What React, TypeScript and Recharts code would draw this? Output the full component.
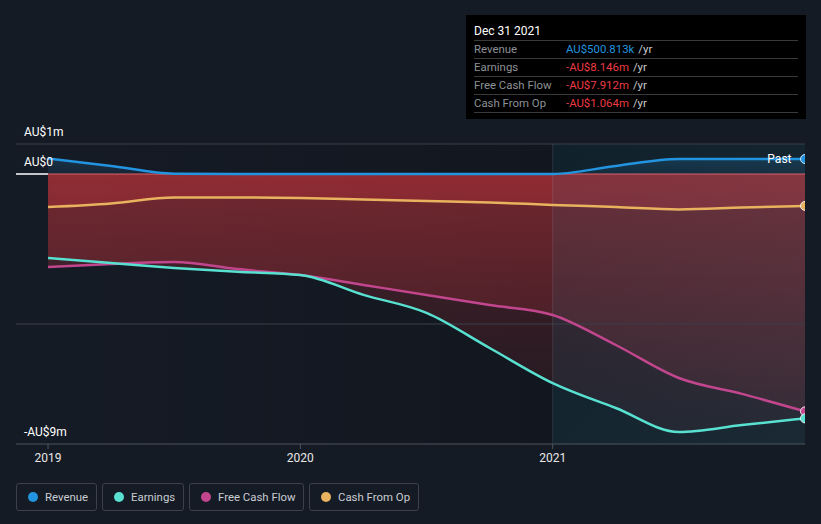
import {
  ComposedChart,
  Area,
  Line,
  XAxis,
  YAxis,
  ReferenceLine,
  ReferenceArea,
  ReferenceDot,
} from "recharts";

const periods = [2019, 2019.25, 2019.5, 2019.75, 2020, 2020.25, 2020.5, 2020.75, 2021, 2021.25, 2021.5, 2021.75, 2022];
const revenue = [0.52, 0.27, 0.01, 0, 0, 0, 0, 0, 0, 0.27, 0.5, 0.5, 0.5];
const earnings = [-2.8, -2.97, -3.13, -3.26, -3.37, -4.03, -4.63, -5.8, -6.97, -7.8, -8.6, -8.37, -8.146];
const freeCashFlow = [-3.1, -3.0, -2.93, -3.17, -3.37, -3.7, -4.03, -4.37, -4.7, -5.7, -6.8, -7.33, -7.912];
const cashFromOp = [-1.1, -0.98, -0.78, -0.78, -0.8, -0.85, -0.9, -0.95, -1.03, -1.1, -1.18, -1.12, -1.064];

const xTicks = [2019, 2020, 2021];

const COLORS = {
  revenue: "#2394df",
  earnings: "#58e0d0",
  fcf: "#c2468e",
  cfo: "#e8b25e",
};

const data = periods.map((t, i) => ({
  t,
  revenue: revenue[i],
  earnings: earnings[i],
  fcf: freeCashFlow[i],
  cfo: cashFromOp[i],
}));

const FONT = "Roboto, 'Noto Sans', sans-serif";

const yLabel = (value: string) => ({
  value,
  position: "insideBottomLeft" as const,
  offset: 8,
  fill: "#ffffff",
  fontSize: 12,
  fontFamily: FONT,
});

const tooltipRows = [
  { label: "Revenue", value: "AU$500.813k", color: "#2394df" },
  { label: "Earnings", value: "-AU$8.146m", color: "#ee3b43" },
  { label: "Free Cash Flow", value: "-AU$7.912m", color: "#ee3b43" },
  { label: "Cash From Op", value: "-AU$1.064m", color: "#ee3b43" },
];

const legendItems = [
  { label: "Revenue", color: COLORS.revenue, width: 81 },
  { label: "Earnings", color: COLORS.earnings, width: 82 },
  { label: "Free Cash Flow", color: COLORS.fcf, width: 115 },
  { label: "Cash From Op", color: COLORS.cfo, width: 110 },
];

export default function App() {
  return (
    <div
      style={{
        position: "fixed",
        left: 0,
        top: 0,
        width: 821,
        height: 524,
        background: "#151b25",
        fontFamily: FONT,
        overflow: "hidden",
      }}
    >
      <ComposedChart
        width={821}
        height={524}
        data={data}
        margin={{ top: 144, right: 16, bottom: 50, left: 16 }}
      >
        <defs>
          <linearGradient id="plotShade" x1="0" y1="0" x2="1" y2="0">
            <stop offset="0%" stopColor="#000" stopOpacity={0} />
            <stop offset="67%" stopColor="#000" stopOpacity={0.32} />
            <stop offset="100%" stopColor="#000" stopOpacity={0.32} />
          </linearGradient>
          <linearGradient id="pastShade" x1="0" y1="0" x2="1" y2="1">
            <stop offset="0%" stopColor="#008cb4" stopOpacity={0.17} />
            <stop offset="100%" stopColor="#5aa8c8" stopOpacity={0.25} />
          </linearGradient>
          <linearGradient id="redFill" gradientUnits="userSpaceOnUse" x1="0" y1="174" x2="0" y2="444">
            <stop offset="0%" stopColor="#d8363d" stopOpacity={0.47} />
            <stop offset="100%" stopColor="#d8363d" stopOpacity={0.1} />
          </linearGradient>
          <linearGradient id="blueFill" gradientUnits="userSpaceOnUse" x1="0" y1="150" x2="0" y2="174">
            <stop offset="0%" stopColor="#2394df" stopOpacity={0.4} />
            <stop offset="100%" stopColor="#2394df" stopOpacity={0.15} />
          </linearGradient>
        </defs>

        <XAxis
          dataKey="t"
          type="number"
          domain={[2018.873, 2022]}
          ticks={xTicks}
          height={30}
          tick={{ fill: "#e8e8e8", fontSize: 12, fontFamily: FONT }}
          tickLine={{ stroke: "#4f545c" }}
          tickSize={5}
          tickMargin={4}
          axisLine={{ stroke: "#4f545c" }}
          allowDataOverflow
        />
        <YAxis type="number" domain={[-9, 1]} hide allowDataOverflow />

        <ReferenceArea x1={2019} x2={2022} y1={-9} y2={1} fill="url(#plotShade)" stroke="none" />

        <ReferenceLine y={1} stroke="#3b3f48" label={yLabel("AU$1m")} />
        <ReferenceLine y={-5} stroke="#3b3f48" />
        <ReferenceLine y={-9} stroke="none" label={yLabel("-AU$9m")} />

        <Area dataKey="revenue" type="monotone" baseValue={0} fill="url(#blueFill)" stroke="none" isAnimationActive={false} />
        <Area dataKey="earnings" type="monotone" baseValue={0} fill="url(#redFill)" stroke="none" isAnimationActive={false} />
        <Area dataKey="fcf" type="monotone" baseValue={0} fill="url(#redFill)" stroke="none" isAnimationActive={false} />
        <Area dataKey="cfo" type="monotone" baseValue={0} fill="url(#redFill)" stroke="none" isAnimationActive={false} />

        <ReferenceLine
          segment={[{ x: 2018.873, y: 0 }, { x: 2019, y: 0 }]}
          stroke="#ffffff"
          strokeWidth={1.5}
          label={yLabel("AU$0")}
        />
        <ReferenceLine
          segment={[{ x: 2019, y: 0 }, { x: 2022, y: 0 }]}
          stroke="#d9626b"
          strokeWidth={1}
        />

        <ReferenceArea x1={2021} x2={2022} y1={-9} y2={1} fill="url(#pastShade)" stroke="none" />
        <ReferenceLine x={2021} stroke="#ffffff" strokeOpacity={0.1} />

        <Line dataKey="cfo" type="monotone" stroke={COLORS.cfo} strokeWidth={2.5} dot={false} isAnimationActive={false} />
        <Line dataKey="fcf" type="monotone" stroke={COLORS.fcf} strokeWidth={2.5} dot={false} isAnimationActive={false} />
        <Line dataKey="earnings" type="monotone" stroke={COLORS.earnings} strokeWidth={2.5} dot={false} isAnimationActive={false} />
        <Line dataKey="revenue" type="monotone" stroke={COLORS.revenue} strokeWidth={2.5} dot={false} isAnimationActive={false} />

        <ReferenceDot
          x={2022}
          y={revenue[revenue.length - 1]}
          r={4.5}
          fill={COLORS.revenue}
          stroke="#cfe6f7"
          strokeWidth={1}
          ifOverflow="hidden"
          label={{ value: "Past", position: "left", offset: 9, fill: "#ffffff", fontSize: 12, fontFamily: FONT }}
        />
        <ReferenceDot x={2022} y={cashFromOp[cashFromOp.length - 1]} r={4.5} fill={COLORS.cfo} stroke="#eeeeee" strokeWidth={1} ifOverflow="hidden" />
        <ReferenceDot x={2022} y={freeCashFlow[freeCashFlow.length - 1]} r={4.5} fill={COLORS.fcf} stroke="#eeeeee" strokeWidth={1} ifOverflow="hidden" />
        <ReferenceDot x={2022} y={earnings[earnings.length - 1]} r={4.5} fill={COLORS.earnings} stroke="#eeeeee" strokeWidth={1} ifOverflow="hidden" />
      </ComposedChart>

      {/* static tooltip box */}
      <div
        style={{
          position: "absolute",
          left: 466,
          top: 15,
          width: 340,
          height: 104,
          background: "#000000",
          boxSizing: "border-box",
          padding: "8px 8px 0 8px",
          fontSize: 11.4,
        }}
      >
        <div style={{ color: "#ffffff", height: 17, lineHeight: "17px", fontSize: 12 }}>Dec 31 2021</div>
        {tooltipRows.map((r) => (
          <div
            key={r.label}
            style={{
              display: "flex",
              borderTop: "1px solid #3a3a3a",
              height: 17,
              lineHeight: "17px",
            }}
          >
            <span style={{ width: 92, color: "#8d9196" }}>{r.label}</span>
            <span style={{ color: r.color }}>{r.value}</span>
            <span style={{ color: "#c9cbcf", marginLeft: 4 }}>/yr</span>
          </div>
        ))}
        <div style={{ borderTop: "1px solid #3a3a3a" }} />
      </div>

      {/* legend */}
      <div style={{ position: "absolute", left: 16, top: 483, display: "flex", gap: 5 }}>
        {legendItems.map((it) => (
          <div
            key={it.label}
            style={{
              width: it.width,
              height: 28,
              boxSizing: "border-box",
              border: "1px solid #3b404a",
              borderRadius: 3,
              display: "flex",
              alignItems: "center",
              paddingLeft: 11,
              color: "#c9ccd1",
              fontSize: 11.4,
            }}
          >
            <span
              style={{
                width: 10,
                height: 10,
                borderRadius: 5,
                background: it.color,
                marginRight: 7,
                display: "inline-block",
              }}
            />
            {it.label}
          </div>
        ))}
      </div>
    </div>
  );
}
